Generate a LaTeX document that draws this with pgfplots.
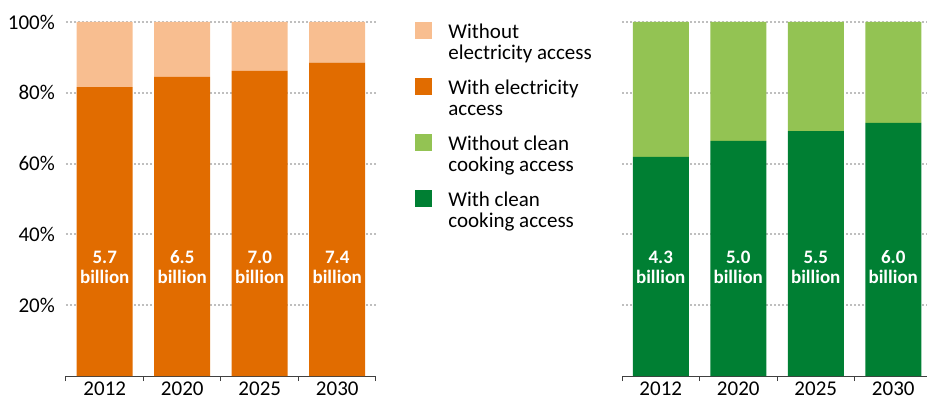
\documentclass[border=0pt]{standalone}
\usepackage{fontspec}
\setmainfont{Carlito}
\usepackage{pgfplots}
\pgfplotsset{compat=1.18}
\definecolor{lorange}{HTML}{F8BE90}
\definecolor{dorange}{HTML}{E16C00}
\definecolor{lgreen}{HTML}{93C353}
\definecolor{dgreen}{HTML}{007F33}
\definecolor{gridgray}{HTML}{BFBFBF}
\definecolor{axisgray}{HTML}{404040}
\tikzset{blab/.style={font=\bfseries\fontsize{19}{20}\selectfont, text=white, align=center}}
\pgfplotsset{
 mybase/.style={
  scale only axis, width=310pt, height=354pt,
  anchor=south west,
  ybar stacked, bar width=56pt,
  xmin=-0.5, xmax=3.5, ymin=0, ymax=100,
  axis x line*=bottom, axis y line*=left,
  y axis line style={draw=none},
  x axis line style={axisgray, line width=1pt},
  xtick={0,1,2,3}, xticklabels={2012,2020,2025,2030},
  minor xtick={-0.5,0.5,1.5,2.5,3.5},
  major tick length=0pt, minor tick length=5pt,
  tick align=outside,
  every minor tick/.append style={axisgray, line width=1pt},
  ytick={20,40,60,80,100},
  ymajorgrids,
  major grid style={gridgray, line width=2pt, dash pattern=on 2pt off 2pt},
  ticklabel style={font=\fontsize{21}{21}\selectfont, inner sep=0pt, text=black},
  xticklabel style={yshift=-6pt, text depth=0pt},
  yticklabel style={xshift=-11pt},
 },
 limg/.style={legend image code/.code={\fill[#1] (0pt,4.3pt) rectangle (16pt,20.3pt);}},
}
\begin{document}
\begin{tikzpicture}
\begin{axis}[mybase, at={(66pt,24pt)},
  yticklabels={20\%,40\%,60\%,80\%,100\%},
  legend style={draw=none, fill=none, inner sep=0pt, outer sep=0pt,
    at={(axis description cs:1.1258,1.0)}, anchor=north west,
    column sep=17pt, row sep=17pt,
    cells={anchor=west, align=left},
    nodes={inner sep=0pt, font=\fontsize{21}{21}\selectfont}},
]
\addplot[fill=dorange, draw=none, forget plot] coordinates {(0,81.6) (1,84.5) (2,86.2) (3,88.5)};
\addplot[fill=lorange, draw=none, forget plot] coordinates {(0,18.4) (1,15.5) (2,13.8) (3,11.5)};
\addlegendimage{limg=lorange}
\addlegendentry{\strut Without\\electricity access\strut}
\addlegendimage{limg=dorange}
\addlegendentry{\strut With electricity\\access\strut}
\addlegendimage{limg=lgreen}
\addlegendentry{\strut Without clean\\cooking access\strut}
\addlegendimage{limg=dgreen}
\addlegendentry{\strut With clean\\cooking access\strut}
\coordinate (A0) at (axis cs:0,30.8);
\coordinate (A1) at (axis cs:1,30.8);
\coordinate (A2) at (axis cs:2,30.8);
\coordinate (A3) at (axis cs:3,30.8);
\end{axis}
\node[blab] at (A0) {5.7\\billion};
\node[blab] at (A1) {6.5\\billion};
\node[blab] at (A2) {7.0\\billion};
\node[blab] at (A3) {7.4\\billion};
\begin{axis}[mybase, at={(622pt,24pt)}, yticklabels={}]
\addplot[fill=dgreen, draw=none] coordinates {(0,61.9) (1,66.4) (2,69.2) (3,71.5)};
\addplot[fill=lgreen, draw=none] coordinates {(0,38.1) (1,33.6) (2,30.8) (3,28.5)};
\coordinate (B0) at (axis cs:0,30.8);
\coordinate (B1) at (axis cs:1,30.8);
\coordinate (B2) at (axis cs:2,30.8);
\coordinate (B3) at (axis cs:3,30.8);
\end{axis}
\node[blab] at (B0) {4.3\\billion};
\node[blab] at (B1) {5.0\\billion};
\node[blab] at (B2) {5.5\\billion};
\node[blab] at (B3) {6.0\\billion};
\pgfresetboundingbox
\path[use as bounding box] (0,0) rectangle (927pt,400pt);
\end{tikzpicture}
\end{document}
